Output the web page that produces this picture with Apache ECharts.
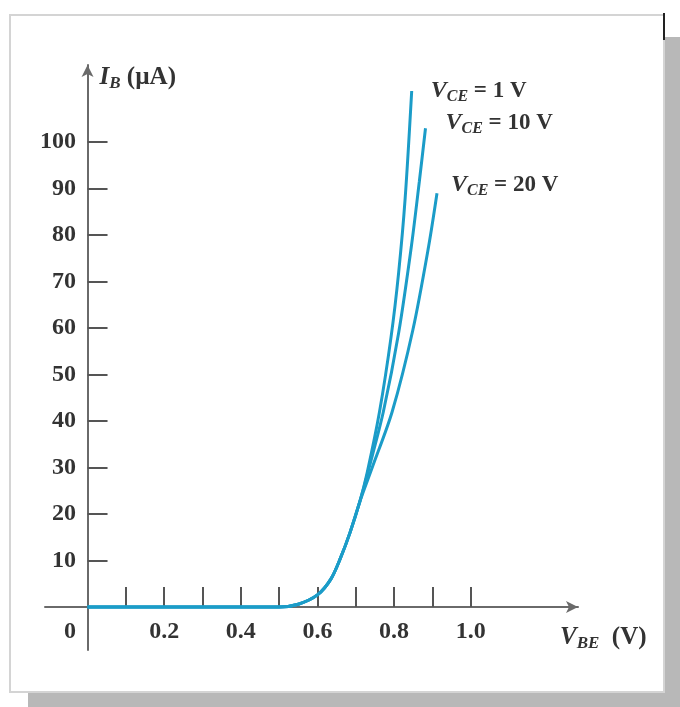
<!DOCTYPE html>
<html>
<head>
<meta charset="utf-8">
<script src="https://cdn.jsdelivr.net/npm/echarts@6/dist/echarts.min.js"></script>
<style>html,body{margin:0;padding:0;background:#fff;}#c{width:680px;height:707px;}</style>
</head>
<body>
<div id="c"></div>
<script>
// ---- data ----
const xTicks = [0.1,0.2,0.3,0.4,0.5,0.6,0.7,0.8,0.9,1.0];
const xLabels = [0,0.2,0.4,0.6,0.8,1.0];
const yTicks = [10,20,30,40,50,60,70,80,90,100];
const yLabels = [10,20,30,40,50,60,70,80,90,100];

const vbe1 = [0,0.5,0.55,0.6,0.635,0.66,0.685,0.71,0.73,0.762,0.792,0.812,0.829,0.846];
const ib1  = [0,0,0.6,2.6,6,10.5,16,22.5,29,42,58,72,88,111];
const vbe10 = [0,0.5,0.55,0.6,0.635,0.66,0.685,0.71,0.735,0.772,0.812,0.845,0.866,0.882];
const ib10  = [0,0,0.6,2.6,6,10.5,16,22.5,30,42,59,77.5,91.6,103];
const vbe20 = [0,0.5,0.55,0.6,0.635,0.66,0.685,0.71,0.743,0.795,0.849,0.89,0.912];
const ib20  = [0,0,0.6,2.6,6,10.5,16,22.5,30,42,59.6,77.5,89];
const curveNames = ['1','10','20'];

const FONT = 'Liberation Serif, Times New Roman, serif';
const TXT = '#333';
const LINE = '#1b9cc8';

function pairs(xs, ys){ return xs.map((x,i)=>[x, ys[i]]); }

const subRich = {
  v: {fontFamily: FONT, fontSize: 24, fontStyle: 'italic', fontWeight: 'bold', color: TXT},
  s: {fontFamily: FONT, fontSize: 16, fontStyle: 'italic', fontWeight: 'bold', color: TXT, padding: [12,0,0,0]},
  n: {fontFamily: FONT, fontSize: 23, fontWeight: 'bold', color: TXT}
};
const nameRich = {
  v: {fontFamily: FONT, fontSize: 25, fontStyle: 'italic', fontWeight: 'bold', color: TXT},
  s: {fontFamily: FONT, fontSize: 17, fontStyle: 'italic', fontWeight: 'bold', color: TXT, padding: [12,0,0,0]},
  n: {fontFamily: FONT, fontSize: 25, fontWeight: 'bold', color: TXT}
};

function curve(name, xs, ys, offset){
  return {
    type: 'line', name: 'VCE = ' + name + ' V',
    data: pairs(xs, ys),
    smooth: 0.3,
    showSymbol: false, symbol: 'none',
    lineStyle: {color: LINE, width: 3},
    endLabel: {
      show: true, offset: offset,
      formatter: '{v|V}{s|CE}{n| = ' + name + ' V}',
      rich: subRich
    },
    z: 3
  };
}

const chart = echarts.init(document.getElementById('c'), null, {renderer: 'canvas'});
chart.setOption({
  animation: false,
  backgroundColor: '#fff',
  graphic: {elements: [
    {type: 'rect', z: -20, shape: {x: 28, y: 37, width: 660, height: 680}, style: {fill: '#b8b8b8'}},
    {type: 'rect', z: -10, shape: {x: 10, y: 15, width: 654, height: 677}, style: {fill: '#fff', stroke: '#d4d4d4', lineWidth: 2}},
    {type: 'line', z: -5, shape: {x1: 664, y1: 13, x2: 664, y2: 40}, style: {stroke: '#222', lineWidth: 2}}
  ]},
  grid: {left: 45, right: 102, top: 65, bottom: 57, outerBoundsMode: 'none'},
  xAxis: {
    type: 'value', min: -0.111, max: 1.28,
    name: '{v|V}{s|BE}{n|  (V)}',
    nameLocation: 'end', nameGap: -18,
    nameTextStyle: {align: 'left', verticalAlign: 'top', padding: [16,0,0,0], rich: nameRich},
    axisLine: {onZero: true, symbol: ['none','arrow'], symbolSize: [9,12], lineStyle: {color: '#6a6a6a', width: 2}},
    axisTick: {show: true, inside: true, length: 20, customValues: xTicks, lineStyle: {color: '#555', width: 2}},
    axisLabel: {
      customValues: xLabels, margin: -30,
      fontFamily: FONT, fontSize: 24, color: TXT, fontWeight: 'bold',
      formatter: v => v === 0 ? '{z|0}' : v.toFixed(1),
      rich: {z: {fontFamily: FONT, fontSize: 24, color: TXT, fontWeight: 'bold', padding: [0,35,0,0]}}
    },
    splitLine: {show: false}
  },
  yAxis: {
    type: 'value', min: -9.25, max: 116.6,
    name: '{v|I}{s|B}{n| (µA)}',
    nameLocation: 'end', nameGap: -13,
    nameTextStyle: {align: 'left', verticalAlign: 'middle', padding: [0,0,0,12], rich: nameRich},
    axisLine: {onZero: true, symbol: ['none','arrow'], symbolSize: [9,12], lineStyle: {color: '#6a6a6a', width: 2}},
    axisTick: {show: true, inside: true, length: 20, customValues: yTicks, lineStyle: {color: '#555', width: 2}},
    axisLabel: {customValues: yLabels, margin: -31, fontFamily: FONT, fontSize: 24, color: TXT, fontWeight: 'bold'},
    splitLine: {show: false}
  },
  series: [
    curve(curveNames[0], vbe1, ib1, [11, 0]),
    curve(curveNames[1], vbe10, ib10, [12, -5]),
    curve(curveNames[2], vbe20, ib20, [6, -8])
  ]
});
</script>
</body>
</html>
